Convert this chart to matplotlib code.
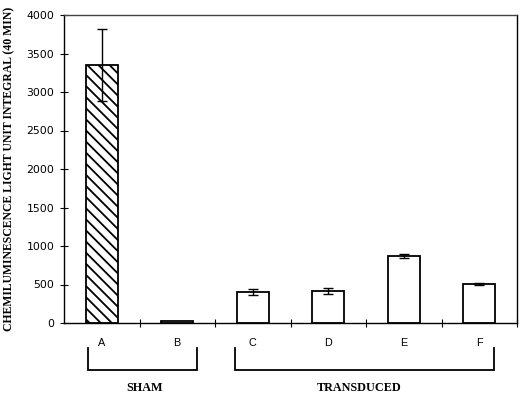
import matplotlib
matplotlib.use("Agg")
import matplotlib.pyplot as plt
import matplotlib.transforms as mtransforms
import numpy as np

categories = ["A", "B", "C", "D", "E", "F"]
values = [3350, 20, 400, 415, 870, 510]
errors = [470, 0, 40, 35, 25, 15]
BS = chr(92)
hatches = [BS * 3, "", "", "", "", ""]
groups = ["SHAM", "TRANSDUCED"]
group_members = [(0, 1), (2, 5)]
yticks = [0, 500, 1000, 1500, 2000, 2500, 3000, 3500, 4000]
ylabel = "CHEMILUMINESCENCE LIGHT UNIT INTEGRAL (40 MIN)"

plt.rcParams['hatch.linewidth'] = 1.3
fig = plt.figure(figsize=(5.2, 3.96), dpi=100)
ax = fig.add_axes([64/520, 1 - 323/396, (517-64)/520, (323-15)/396])

x = np.arange(len(categories))
vals = np.array(values)
errs = np.array(errors)
for i in x:
    ax.bar(i, vals[i], width=0.43, color="white", edgecolor="black",
           linewidth=1.3, hatch=hatches[i], zorder=2)
m = errs > 0
ax.errorbar(x[m], vals[m], yerr=errs[m], fmt="none",
            ecolor="black", elinewidth=1.0, capsize=3.6, capthick=1.0, zorder=3)

ax.set_xlim(-0.5, len(categories) - 0.5)
ax.set_ylim(0, 4000)
ax.set_yticks(yticks)
ax.set_yticklabels([str(v) for v in yticks], family="DejaVu Sans", fontsize=7.8)
ax.tick_params(axis="y", direction="inout", length=6, width=0.8, pad=4)

ax.set_xticks(x)
ax.set_xticklabels(categories, family="Liberation Sans", fontsize=7.8)
ax.tick_params(axis="x", which="major", length=0, pad=11)
ax.set_xticks(np.arange(0.5, len(categories), 1.0), minor=True)
ax.tick_params(axis="x", which="minor", direction="inout", length=6, width=0.8)

for s in ax.spines.values():
    s.set_linewidth(1.0)
ax.spines["top"].set_color("#444444")

ax.set_ylabel(ylabel, family="Liberation Serif", fontweight="bold", fontsize=8.5, labelpad=8)

trans = mtransforms.blended_transform_factory(ax.transData, fig.transFigure)
y_top = 1 - 348/396
y_bot = 1 - 370/396
left_off = [-0.18, -0.23]
right_off = [0.26, 0.2]
label_shift = [0.03, -0.07]
for k, name in enumerate(groups):
    a, b = group_members[k]
    xa, xb = a + left_off[k], b + right_off[k]
    ax.plot([xa, xa, xb, xb], [y_top, y_bot, y_bot, y_top], color="black",
            linewidth=1.3, transform=trans, clip_on=False, solid_joinstyle="miter")
    ax.text((xa + xb) / 2 + label_shift[k], 1 - 388/396, name, transform=trans,
            ha="center", va="center",
            family="Liberation Serif", fontweight="bold", fontsize=8.7)

fig.savefig("out.png", dpi=100)
